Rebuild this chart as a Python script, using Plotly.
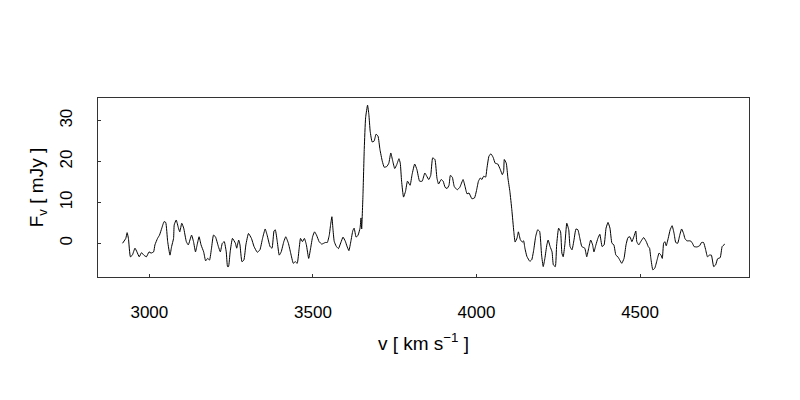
import plotly.graph_objects as go

velocity = [
    2918, 2928, 2932, 2936, 2942, 2948, 2956, 2962, 2969, 2976, 2983, 2991, 2999, 3005, 3013, 3017,
    3025, 3031, 3038, 3045, 3050, 3056, 3063, 3068, 3074, 3076, 3082, 3089, 3093, 3099, 3105, 3113,
    3119, 3129, 3135, 3141, 3146, 3152, 3158, 3166, 3172, 3178, 3184, 3190, 3196, 3202, 3211, 3217,
    3223, 3229, 3235, 3239, 3242, 3247, 3254, 3263, 3267, 3273, 3277, 3283, 3289, 3295, 3303, 3312,
    3320, 3330, 3338, 3346, 3354, 3360, 3369, 3375, 3381, 3385, 3391, 3397, 3403, 3411, 3417, 3425,
    3432, 3440, 3446, 3452, 3458, 3462, 3468, 3474, 3480, 3487, 3493, 3499, 3505, 3511, 3519, 3527,
    3538, 3544, 3550, 3554, 3558, 3561, 3565, 3571, 3578, 3585, 3592, 3599, 3604, 3610, 3616, 3622,
    3626, 3632, 3638, 3644, 3647, 3649, 3653, 3657, 3661, 3667, 3671, 3675, 3681, 3687, 3693, 3699,
    3705, 3712, 3718, 3726, 3732, 3738, 3744, 3750, 3756, 3763, 3767, 3771, 3777, 3783, 3789, 3797,
    3803, 3811, 3818, 3826, 3834, 3842, 3848, 3854, 3860, 3866, 3873, 3879, 3884, 3892, 3898, 3904,
    3910, 3916, 3920, 3926, 3932, 3941, 3949, 3959, 3965, 3971, 3977, 3986, 3994, 4000, 4006, 4012,
    4016, 4022, 4028, 4032, 4038, 4044, 4051, 4057, 4065, 4073, 4079, 4083, 4085, 4091, 4096, 4102,
    4108, 4114, 4118, 4124, 4128, 4134, 4140, 4144, 4148, 4154, 4163, 4169, 4175, 4181, 4187, 4193,
    4199, 4204, 4209, 4215, 4219, 4225, 4231, 4235, 4241, 4245, 4251, 4257, 4261, 4265, 4270, 4276,
    4282, 4286, 4292, 4298, 4304, 4310, 4316, 4322, 4331, 4337, 4343, 4349, 4355, 4359, 4365, 4371,
    4377, 4384, 4390, 4396, 4402, 4408, 4414, 4420, 4426, 4432, 4438, 4444, 4451, 4457, 4463, 4469,
    4475, 4481, 4487, 4490, 4496, 4502, 4511, 4519, 4525, 4529, 4533, 4539, 4545, 4552, 4558, 4564,
    4568, 4572, 4576, 4580, 4586, 4592, 4598, 4604, 4609, 4615, 4621, 4627, 4633, 4637, 4643, 4653,
    4659, 4665, 4674, 4682, 4688, 4694, 4700, 4706, 4712, 4718, 4725, 4731, 4737, 4745, 4751, 4759,
]

flux = [
    0.0, 1.2, 2.6, 1.2, -3.3, -2.9, -1.2, -2.1, -3.3, -2.3, -2.9, -3.3, -2.1, -2.4, -2.1, -0.4,
    1.2, 2.0, 3.7, 5.3, 5.1, 0.4, -2.9, -0.8, 1.2, 4.5, 5.7, 3.7, 2.8, 4.9, 3.7, 0.4,
    -0.4, 2.0, 0.4, -2.1, -0.4, 1.6, -0.4, -2.1, -4.3, -3.7, -4.1, -1.2, 2.0, 1.6, -0.8, -2.1,
    0.0, 0.4, -2.1, -5.7, -5.7, -2.1, 1.2, 0.0, -1.2, 0.8, -0.4, -4.5, -4.1, -0.4, 2.4, 1.2,
    -0.8, -2.2, -1.6, 1.2, 3.5, 2.0, -0.8, -1.2, 3.0, 3.3, 0.4, -2.9, -2.1, 0.4, 1.6, 0.0,
    -2.4, -4.9, -4.5, -4.9, -1.2, 1.2, 0.4, 1.2, -0.4, -3.7, -1.2, 1.6, 2.8, 2.0, 0.4, -0.2,
    0.2, 0.2, 2.0, 4.5, 6.5, 3.7, 0.5, -0.7, -1.3, 0.1, 1.5, 0.5, -0.7, -1.8, 0.5, 3.1,
    3.7, 1.5, 2.0, 3.7, 6.2, 3.5, 11.9, 23.3, 30.7, 33.8, 31.5, 27.4, 24.8, 25.0, 26.7, 26.2,
    22.9, 20.1, 18.6, 18.8, 19.6, 22.1, 20.1, 18.3, 19.2, 20.7, 19.6, 15.2, 11.3, 12.7, 15.2, 14.2,
    16.8, 19.4, 18.0, 15.2, 15.2, 17.2, 16.4, 15.6, 16.6, 20.9, 20.5, 16.0, 14.5, 15.6, 15.2, 13.7,
    13.4, 14.2, 16.6, 16.2, 13.9, 13.1, 13.7, 15.6, 13.9, 12.1, 12.3, 10.9, 11.1, 12.9, 15.2, 16.0,
    15.6, 16.4, 16.2, 18.4, 21.3, 21.9, 21.0, 19.6, 19.4, 18.0, 16.8, 17.6, 20.5, 19.6, 16.0, 12.7,
    8.2, 2.9, 0.3, 1.3, 2.8, 0.9, 0.3, 0.6, -1.2, -3.2, -4.4, -4.0, -1.6, 1.7, 3.3, 2.9,
    -2.9, -5.7, -3.7, -0.4, 0.8, -0.8, -2.1, -5.3, -5.7, -0.4, 3.7, 2.8, -2.4, -3.3, -0.4, 4.9,
    3.3, -0.8, -1.6, 0.8, 3.5, 3.3, 1.2, -0.8, -1.2, -3.3, -1.2, 0.8, -0.4, -2.1, -0.4, 1.2,
    2.2, -0.8, -0.4, 3.7, 5.1, 3.7, 0.0, -0.4, -2.9, -3.3, -4.1, -4.9, -3.7, -0.4, 1.4, 1.6,
    0.4, 1.6, 3.0, 0.4, -0.4, 0.4, 1.4, 0.4, -0.8, -1.2, -3.7, -6.5, -6.1, -4.1, -2.4, -2.9,
    -3.7, 0.0, 0.4, -0.6, 1.2, 3.3, 4.3, 2.4, 0.2, 0.0, 1.9, 3.5, 2.4, 1.2, 0.6, 0.6,
    0.2, -0.8, -0.9, -0.6, 0.2, 0.2, -1.4, -3.3, -2.9, -2.9, -5.7, -5.3, -3.8, -3.5, -0.8, -0.2,
]

x_ticks = [3000, 3500, 4000, 4500]
y_ticks = [0, 10, 20, 30]

fig = go.Figure()
fig.add_trace(go.Scatter(
    x=velocity, y=flux, mode="lines",
    line=dict(color="black", width=1, shape="spline", smoothing=0.4),
    showlegend=False, hoverinfo="x+y",
))

font = dict(family="Liberation Sans, Arial, Helvetica, sans-serif", size=17, color="black")
title_font = dict(family="Liberation Sans, Arial, Helvetica, sans-serif", size=19, color="black")

fig.update_layout(
    width=800, height=400,
    margin=dict(l=90, r=59, t=90, b=131, autoexpand=False),
    paper_bgcolor="white", plot_bgcolor="white",
    font=font,
    xaxis=dict(
        range=[2843, 4833], tickvals=x_ticks, ticktext=[str(t) for t in x_ticks],
        showgrid=False, zeroline=False, showline=True, mirror=True, automargin=False,
        linecolor="#333333", linewidth=1, ticks="inside", ticklen=3, tickcolor="#333333",
        ticklabelstandoff=20,
        title=dict(text="v [ km s<sup>−1</sup> ]", standoff=15, font=title_font),
    ),
    yaxis=dict(
        range=[-8.25, 35.55], tickvals=y_ticks, ticktext=[str(t) for t in y_ticks],
        showgrid=False, zeroline=False, showline=True, mirror=True, automargin=False,
        linecolor="#333333", linewidth=1, ticks="inside", ticklen=3, tickcolor="#333333",
        tickangle=-90, ticklabelstandoff=18,
        title=dict(text="F<sub>v</sub>\u00a0[\u00a0mJy\u00a0]", standoff=8, font=title_font),
    ),
)

fig.write_html("out.html")
